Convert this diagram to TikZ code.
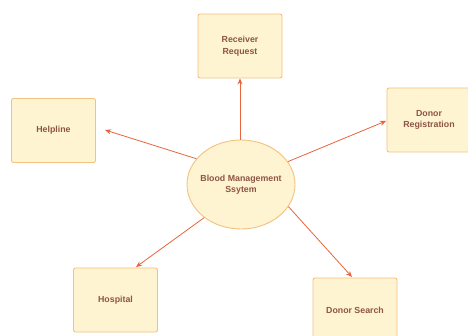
\documentclass[tikz,border=0pt]{standalone}
\usepackage{fontspec}
\setmainfont{Liberation Sans}
\usetikzlibrary{arrows.meta,shapes.geometric}
\definecolor{boxfill}{HTML}{FFF4D2}
\definecolor{boxline}{HTML}{F2C27E}
\definecolor{txt}{HTML}{8C5545}
\definecolor{arr}{HTML}{E8643C}
\begin{document}
\begin{tikzpicture}[x=1pt,y=-1pt,
  box/.style={draw=boxline,fill=boxfill,line width=0.9pt,rounded corners=2pt,minimum width=84pt,minimum height=64pt,inner sep=0pt,align=center,text=txt,font=\fontsize{8.8}{11.5}\selectfont\bfseries},
  hub/.style={ellipse,draw=boxline,fill=boxfill,line width=0.9pt,minimum width=108pt,minimum height=89pt,inner xsep=-14pt,inner ysep=0pt,align=center,text=txt,font=\fontsize{8.8}{11.5}\selectfont\bfseries},
  link/.style={draw=arr,line width=0.8pt,-{Stealth[length=6pt,width=5pt]}}]
\useasboundingbox (0,0) rectangle (468,336);
\node[hub] (c) at (241,184.5) {Blood Management\\Ssytem};
\node[box] (rr) at (240,46) {Receiver\\Request};
\node[box] (hl) at (53.5,130.5) {Helpline};
\node[box] (dr) at (429,120) {Donor\\Registration};
\node[box] (hp) at (115.5,300) {Hospital};
\node[box] (ds) at (355,310) {Donor Search};
\coordinate (hlend) at (105,130);
\coordinate (drend) at (386,121);
\coordinate (hpend) at (136,267);
\coordinate (dsend) at (352,277);
\draw[link] (c.north -| rr.south) -- (rr.south);
\draw[link] (c.150) -- (hlend);
\draw[link] (c.26) -- (drend);
\draw[link] (c.222) -- (hpend);
\draw[link] (c.-25) -- (dsend);
\end{tikzpicture}
\end{document}
